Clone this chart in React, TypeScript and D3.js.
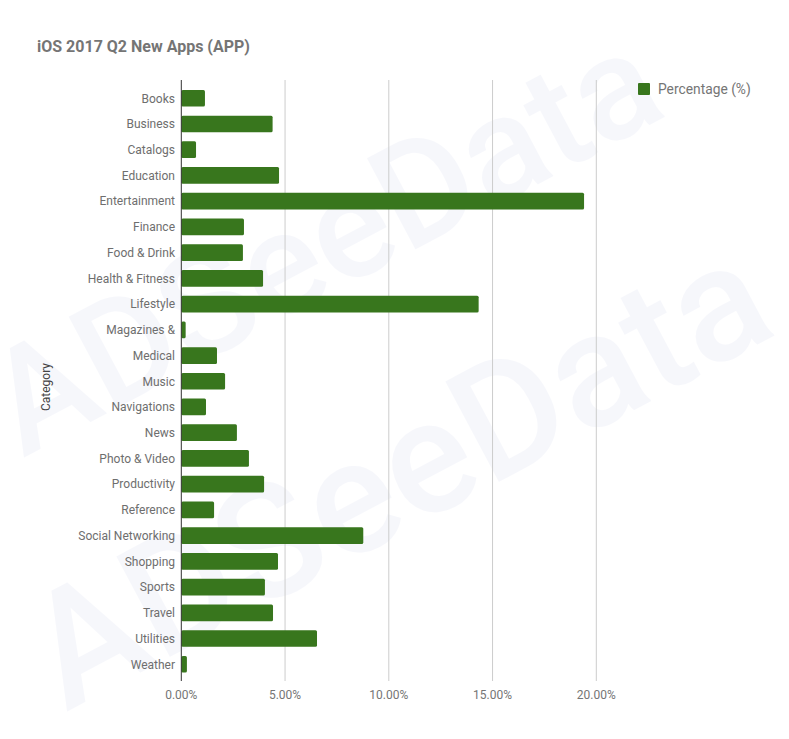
import React from "react";
import * as d3 from "d3";

const title = "iOS 2017 Q2 New Apps (APP)";
const categories = [
  "Books", "Business", "Catalogs", "Education", "Entertainment", "Finance",
  "Food & Drink", "Health & Fitness", "Lifestyle", "Magazines &", "Medical",
  "Music", "Navigations", "News", "Photo & Video", "Productivity", "Reference",
  "Social Networking", "Shopping", "Sports", "Travel", "Utilities", "Weather",
];
const percentages = [
  1.14, 4.4, 0.71, 4.71, 19.41, 3.02, 2.97, 3.94, 14.33, 0.21, 1.72, 2.11,
  1.19, 2.68, 3.26, 3.99, 1.58, 8.77, 4.66, 4.03, 4.42, 6.54, 0.27,
];
const xTicks = [0, 5, 10, 15, 20];
const seriesName = "Percentage (%)";
const axisTitle = "Category";
const watermark = "ADSeeData";

const W = 789;
const H = 739;
const FONT = "Roboto, 'Noto Sans', sans-serif";

export default function App() {
  const x = d3.scaleLinear().domain([0, 20]).range([181.3, 596.3]);
  const y = d3
    .scaleBand<string>()
    .domain(categories)
    .range([85.4, 677.1])
    .paddingInner(0.35)
    .paddingOuter(0.175);
  const fmt = (v: number) => v.toFixed(2) + "%";

  return (
    <svg
      width={W}
      height={H}
      style={{ position: "absolute", left: 0, top: 0, background: "#fff" }}
      fontFamily={FONT}
    >
      <rect x={0} y={0} width={W} height={H} fill="#fff" />
      {/* watermark */}
      <g fill="#d4d9f0" opacity={0.2} fontWeight={500}>
        <text fontSize={145} transform="translate(23,458) rotate(-28)">{watermark}</text>
        <text fontSize={160} transform="translate(66,712) rotate(-28)">{watermark}</text>
      </g>
      {/* title */}
      <text x={37} y={52} fontSize={16} fontWeight={700} fill="#757575">
        {title}
      </text>
      {/* gridlines */}
      {xTicks.filter((t) => t !== 0).map((t) => (
        <line
          key={t}
          x1={x(t)}
          x2={x(t)}
          y1={80}
          y2={681}
          stroke="#cccccc"
          strokeWidth={1}
        />
      ))}
      {/* bars */}
      {categories.map((c, i) => (
        <rect
          key={c}
          x={x(0)}
          y={y(c)}
          width={x(percentages[i]) - x(0)}
          height={y.bandwidth()}
          fill="#38761d"
          rx={1.5}
        />
      ))}
      {/* axis line */}
      <line x1={x(0)} x2={x(0)} y1={80} y2={681} stroke="#333" strokeWidth={1} />
      {/* category labels */}
      {categories.map((c) => (
        <text
          key={c}
          x={175}
          y={(y(c) as number) + y.bandwidth() / 2 + 4.3}
          fontSize={12}
          textAnchor="end"
          fill="#6e6e6e"
        >
          {c}
        </text>
      ))}
      {/* x tick labels */}
      {xTicks.map((t) => (
        <text
          key={t}
          x={x(t)}
          y={699}
          fontSize={12}
          textAnchor="middle"
          fill="#757575"
        >
          {fmt(t)}
        </text>
      ))}
      {/* axis title */}
      <text
        transform="translate(50,387) rotate(-90)"
        fontSize={12}
        textAnchor="middle"
        fill="#444"
      >
        {axisTitle}
      </text>
      {/* legend */}
      <rect x={638} y={83} width={12} height={12} fill="#38761d" rx={1} />
      <text x={658} y={94} fontSize={13.8} fill="#757575">
        {seriesName}
      </text>
    </svg>
  );
}
